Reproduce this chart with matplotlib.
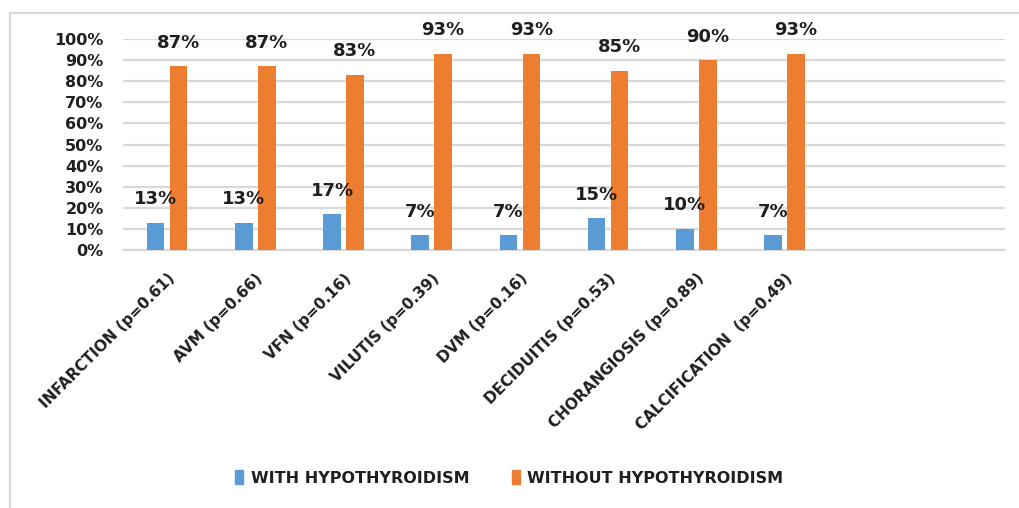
import numpy as np
import matplotlib.pyplot as plt
from matplotlib.lines import Line2D
from matplotlib.patches import Patch

# placental findings, share of cases with / without hypothyroidism
categories = ["INFARCTION (p=0.61)", "AVM (p=0.66)", "VFN (p=0.16)", "VILUTIS (p=0.39)",
              "DVM (p=0.16)", "DECIDUITIS (p=0.53)", "CHORANGIOSIS (p=0.89)",
              "CALCIFICATION  (p=0.49)"]
with_hypo = [13, 13, 17, 7, 7, 15, 10, 7]
without_hypo = [87, 87, 83, 93, 93, 85, 90, 93]
series_names = ["WITH HYPOTHYROIDISM", "WITHOUT HYPOTHYROIDISM"]
yticks = list(range(0, 101, 10))

blue = "#5b9bd5"
orange = "#ed7d31"
grid_col = "#d9d9d9"
txt_col = "#1f1f1f"

plt.rcParams['font.family'] = ['DejaVu Sans']
plt.rcParams['font.weight'] = 'bold'

fig = plt.figure(figsize=(10.19, 5.08), dpi=100)
ax = fig.add_axes([0.1207, 0.5079, 0.8656, 0.4153])

x = np.arange(len(categories))
w = 0.2
off = 0.13
b1 = ax.bar(x - off, with_hypo, w, color=blue, zorder=3)
b2 = ax.bar(x + off, without_hypo, w, color=orange, zorder=3)

for bars, vals in ((b1, with_hypo), (b2, without_hypo)):
    for r, v in zip(bars, vals):
        ax.annotate(f"{v}%", (r.get_x() + r.get_width() / 2, v),
                    xytext=(0, 17), textcoords="offset points",
                    ha="center", va="center", fontsize=13,
                    fontweight="bold", color=txt_col)

ax.set_xlim(-0.5, 9.5)
ax.set_ylim(0, 100)
ax.set_yticks(yticks)
ax.set_yticklabels([f"{t}%" for t in yticks], fontsize=11.5, fontweight="bold",
                   color=txt_col)
ax.yaxis.grid(True, color=grid_col, lw=1.6, zorder=0)
ax.tick_params(axis="y", length=0, pad=14)
ax.tick_params(axis="x", length=0, pad=15)
ax.set_xticks(x)
ax.set_xticklabels(categories, rotation=45, ha="right", rotation_mode="anchor",
                   fontsize=11, fontweight="bold", color=txt_col)
for s in ("top", "right", "left"):
    ax.spines[s].set_visible(False)
ax.spines["bottom"].set_color(grid_col)
ax.spines["bottom"].set_linewidth(1.6)

handles = [Patch(color=blue), Patch(color=orange)]
leg = fig.legend(handles, series_names, loc="center", bbox_to_anchor=(0.5, 0.059),
                 ncol=2, frameon=False, handlelength=0.5,
                 handleheight=0.9, handletextpad=0.5, columnspacing=2.6,
                 prop={"weight": "bold", "size": 11.5})
for t in leg.get_texts():
    t.set_color(txt_col)

# outer chart frame (top and left edges)
fig.add_artist(Line2D([10 / 1019, 1.0], [1 - 13 / 508, 1 - 13 / 508],
                      transform=fig.transFigure, color=grid_col, lw=1.6))
fig.add_artist(Line2D([10 / 1019, 10 / 1019], [0.0, 1 - 13 / 508],
                      transform=fig.transFigure, color=grid_col, lw=1.6))

fig.savefig("out.png", dpi=100)
